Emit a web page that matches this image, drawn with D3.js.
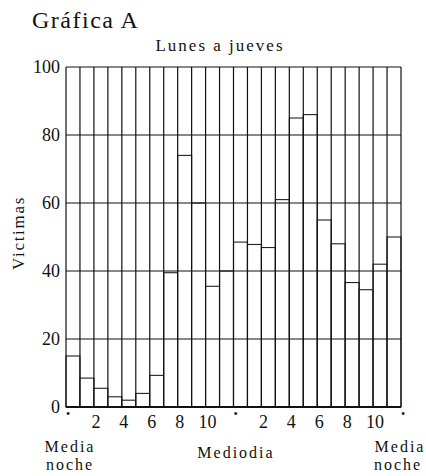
<!DOCTYPE html>
<html><head><meta charset="utf-8">
<script src="https://cdn.jsdelivr.net/npm/d3@7"></script>
<style>
html,body{margin:0;padding:0;background:#fff;}
svg{display:block;}
text{font-family:"Liberation Serif","DejaVu Serif",serif;fill:#111;}
</style></head>
<body>
<script>
const hours = d3.range(24);
const victims = [15, 8.5, 5.5, 3, 2, 4, 9.3, 39.5, 74, 60, 35.5, 40, 48.5, 47.8, 46.9, 61, 85, 86, 55, 48, 36.6, 34.5, 42, 50];
const yTicks = [0, 20, 40, 60, 80, 100];
const xTickPos = [0, 2, 4, 6, 8, 10, 12, 14, 16, 18, 20, 22, 24];
const xTickLabels = ["•", "2", "4", "6", "8", "10", "•", "2", "4", "6", "8", "10", "•"];
const title = "Gráfica A";
const subtitle = "Lunes a jueves";
const yLabel = "Victimas";

const W = 426, H = 476;
const svg = d3.select("body").append("svg").attr("width", W).attr("height", H);
const x = d3.scaleLinear().domain([0, 24]).range([66, 401]);
const y = d3.scaleLinear().domain([0, 100]).range([407, 67]);

// bars
svg.append("g").selectAll("rect").data(hours).join("rect")
  .attr("x", d => x(d)).attr("width", d => x(d + 1) - x(d))
  .attr("y", d => y(victims[d])).attr("height", d => y(0) - y(victims[d]))
  .attr("fill", "#fff").attr("stroke", "#222").attr("stroke-width", 1.1);

// vertical grid
svg.append("g").selectAll("line").data(d3.range(25)).join("line")
  .attr("x1", d => x(d)).attr("x2", d => x(d))
  .attr("y1", y(100)).attr("y2", y(0))
  .attr("stroke", "#111").attr("stroke-width", 1.2);

// horizontal grid
svg.append("g").selectAll("line").data(yTicks).join("line")
  .attr("x1", x(0)).attr("x2", x(24))
  .attr("y1", d => y(d)).attr("y2", d => y(d))
  .attr("stroke", "#111").attr("stroke-width", d => d === 0 ? 2 : 1.1);

// y tick labels
svg.append("g").selectAll("text").data(yTicks).join("text")
  .attr("x", 60).attr("y", d => y(d)).attr("dy", "0.35em")
  .attr("text-anchor", "end").attr("font-size", 18).text(d => d);

// x tick labels
svg.append("g").selectAll("text").data(xTickPos).join("text")
  .attr("x", d => x(d) + 2)
  .attr("y", (d, i) => xTickLabels[i] === "•" ? 418 : 428)
  .attr("text-anchor", "middle")
  .attr("font-size", (d, i) => xTickLabels[i] === "•" ? 12 : 18)
  .text((d, i) => xTickLabels[i]);

// titles
svg.append("text").attr("x", 32).attr("y", 28).attr("font-size", 24).attr("letter-spacing", 1.5).text(title);
svg.append("text").attr("x", 220).attr("y", 51).attr("text-anchor", "middle").attr("font-size", 17).attr("letter-spacing", 2).text(subtitle);
svg.append("text").attr("transform", "translate(24,233) rotate(-90)").attr("text-anchor", "middle").attr("font-size", 17).attr("letter-spacing", 1.7).text(yLabel);

// bottom labels
const bl = svg.append("g").attr("font-size", 16).attr("letter-spacing", 2).attr("text-anchor", "middle");
bl.append("text").attr("x", 70).attr("y", 452).text("Media");
bl.append("text").attr("x", 70).attr("y", 470).text("noche");
bl.append("text").attr("x", 236).attr("y", 458).text("Mediodia");
bl.append("text").attr("x", 400).attr("y", 452).text("Media");
bl.append("text").attr("x", 398).attr("y", 470).text("noche");
</script>
</body></html>
